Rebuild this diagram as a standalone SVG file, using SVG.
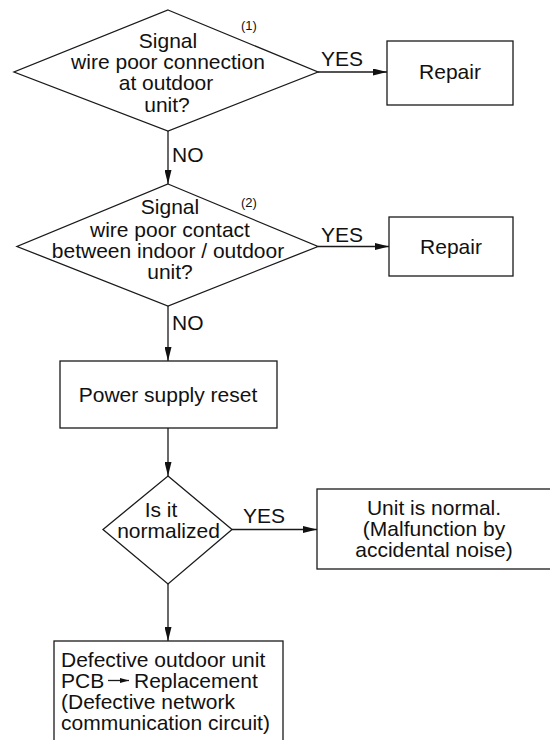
<svg xmlns="http://www.w3.org/2000/svg" width="550" height="740" viewBox="0 0 550 740">
<style>
.s{fill:#fff;stroke:#1a1a1a;stroke-width:1.3}
.t{font-family:"Liberation Sans",Arial,Helvetica,sans-serif;font-size:21px;fill:#111}
.c{text-anchor:middle}
.n{font-family:"Liberation Sans",Arial,Helvetica,sans-serif;font-size:13px;fill:#111}
.l{fill:none;stroke:#1a1a1a;stroke-width:1.3}
</style>
<defs>
<marker id="ah" markerUnits="userSpaceOnUse" markerWidth="14" markerHeight="7" refX="14" refY="3.5" orient="auto">
<path d="M0,0 L14,3.5 L0,7 z" fill="#111"/>
</marker>
<marker id="sm" markerUnits="userSpaceOnUse" markerWidth="9" markerHeight="5" refX="9" refY="2.5" orient="auto">
<path d="M0,0 L9,2.5 L0,5 z" fill="#111"/>
</marker>
</defs>
<rect width="550" height="740" fill="#fff"/>
<g id="connectors">
<path class="l" d="M318,72 H387" marker-end="url(#ah)"/>
<path class="l" d="M168,131 V184" marker-end="url(#ah)"/>
<path class="l" d="M318,246.5 H389" marker-end="url(#ah)"/>
<path class="l" d="M168,306 V361" marker-end="url(#ah)"/>
<path class="l" d="M168,428 V476" marker-end="url(#ah)"/>
<path class="l" d="M232,529.5 H317" marker-end="url(#ah)"/>
<path class="l" d="M168,584 V641" marker-end="url(#ah)"/>
<text class="t" x="321" y="66">YES</text>
<text class="t" x="172" y="162">NO</text>
<text class="t" x="321" y="242">YES</text>
<text class="t" x="172" y="330">NO</text>
<text class="t" x="243" y="523">YES</text>
</g>
<g id="d1">
<polygon class="s" points="168,10 318,72 168,131 14,72"/>
<text class="t c" x="168" y="47.5">Signal</text>
<text class="t c" x="168" y="68.5">wire poor connection</text>
<text class="t c" x="166" y="90">at outdoor</text>
<text class="t c" x="167" y="111.5">unit?</text>
<text class="n" x="241" y="30">(1)</text>
</g>
<g id="r1">
<rect class="s" x="387" y="41" width="126" height="64"/>
<text class="t c" x="450" y="78.5">Repair</text>
</g>
<g id="d2">
<polygon class="s" points="168,184 318,246.5 168,306 17,246.5"/>
<text class="t c" x="170" y="214">Signal</text>
<text class="t c" x="170" y="236.5">wire poor contact</text>
<text class="t c" x="168" y="257.5">between indoor / outdoor</text>
<text class="t c" x="170" y="278.5">unit?</text>
<text class="n" x="241" y="207">(2)</text>
</g>
<g id="r2">
<rect class="s" x="389" y="217" width="124" height="59"/>
<text class="t c" x="451" y="254">Repair</text>
</g>
<g id="p1">
<rect class="s" x="60" y="361" width="217" height="67"/>
<text class="t c" x="168" y="401.5">Power supply reset</text>
</g>
<g id="d3">
<polygon class="s" points="168,476 232,529.5 168,584 103,529.5"/>
<text class="t c" x="161" y="517">Is it</text>
<text class="t c" x="168.5" y="538">normalized</text>
</g>
<g id="u1">
<rect class="s" x="317" y="489" width="240" height="80"/>
<text class="t c" x="434" y="515">Unit is normal.</text>
<text class="t c" x="434" y="536">(Malfunction by</text>
<text class="t c" x="434" y="557">accidental noise)</text>
</g>
<g id="b1">
<rect class="s" x="54" y="641" width="229" height="110"/>
<text class="t" x="61" y="666.5">Defective outdoor unit</text>
<text class="t" x="61" y="687.5">PCB</text>
<path class="l" d="M108,680.5 H129" marker-end="url(#sm)"/>
<text class="t" x="134" y="687.5">Replacement</text>
<text class="t" x="61" y="708.5">(Defective network</text>
<text class="t" x="61" y="729.5">communication circuit)</text>
</g>
</svg>
